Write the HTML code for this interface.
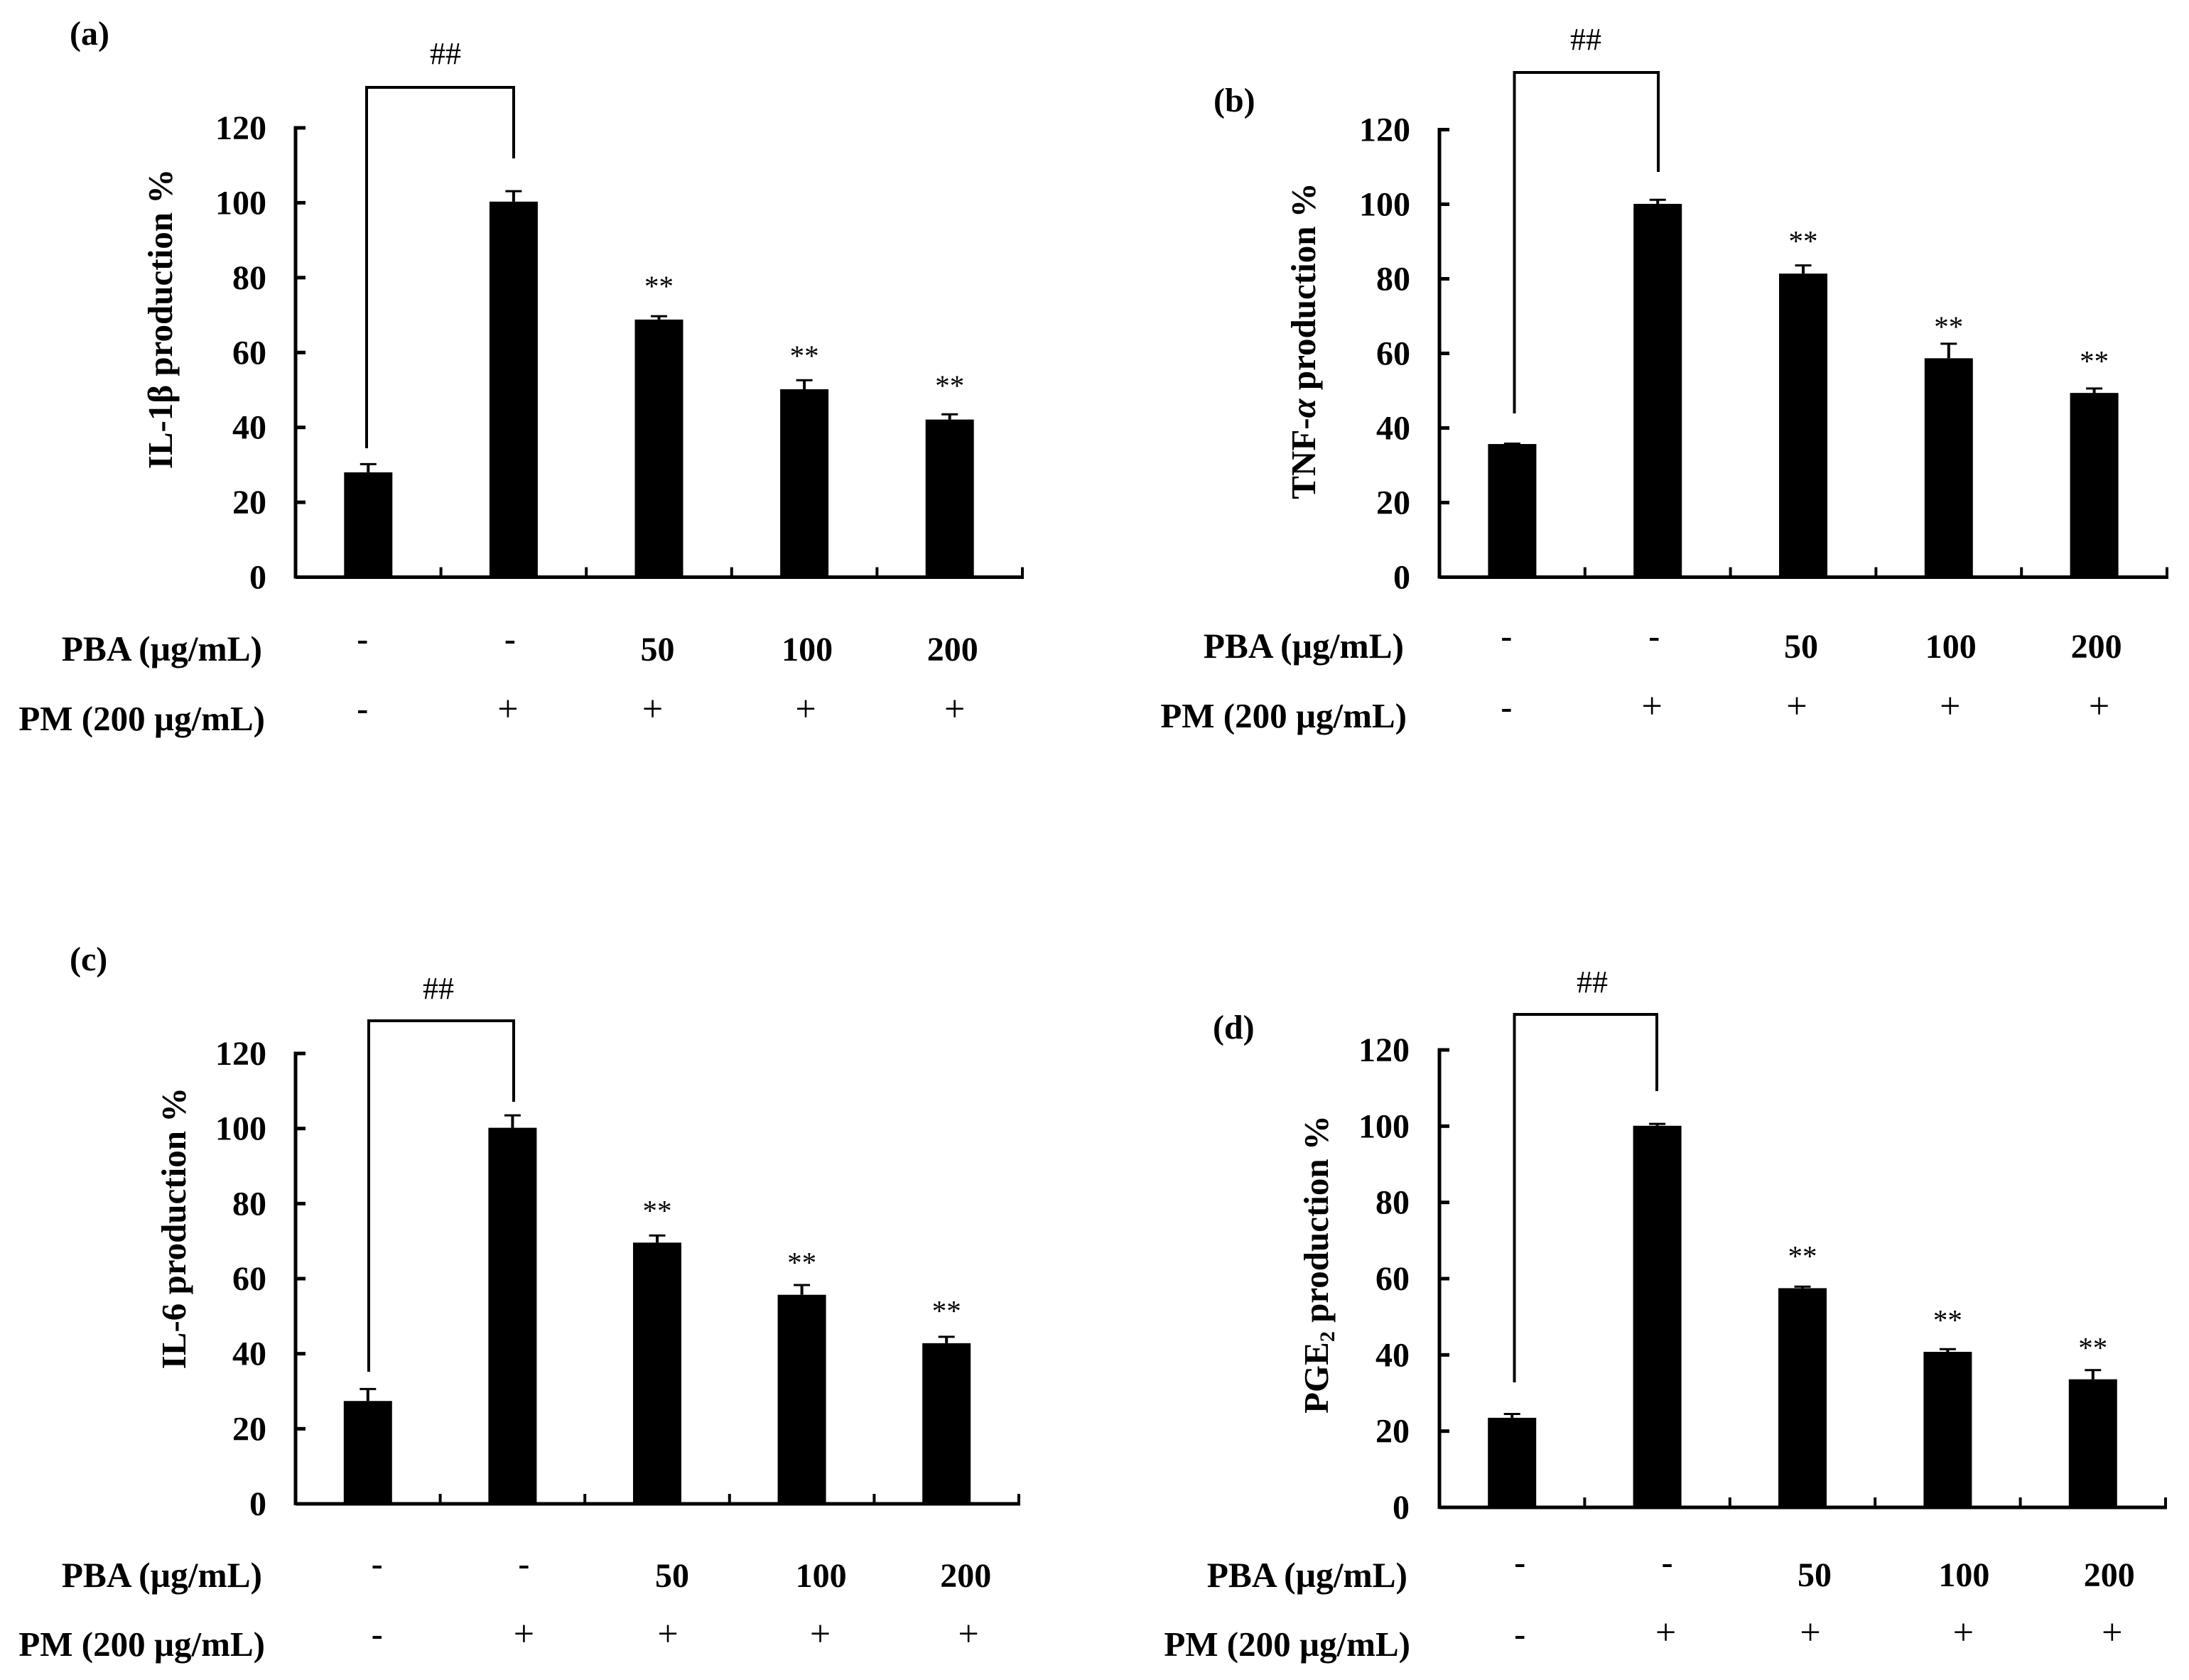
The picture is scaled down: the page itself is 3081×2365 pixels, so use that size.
<!DOCTYPE html>
<html lang="en">
<head>
<meta charset="utf-8">
<title>Cytokine production bar charts</title>
<style>
  html, body { margin: 0; padding: 0; background: #fff; }
  svg { display: block; }
  text { font-family: "Liberation Serif", serif; fill: #000; }
  .bold { font-weight: 700; font-size: 48px; }
  .axis-title { font-weight: 700; font-size: 49px; }
  .pba-title { font-weight: 700; font-size: 49.4px; }
  .pm-title { font-weight: 700; font-size: 49px; }
  .reg { font-weight: 400; }
</style>
</head>
<body>
<svg id="figure" xmlns="http://www.w3.org/2000/svg" width="3081" height="2365" viewBox="0 0 3081 2365">
  <rect x="0" y="0" width="3081" height="2365" fill="#fff"/>

  <g>
    <text class="bold" x="98" y="63">(a)</text>
    <text class="axis-title" text-anchor="middle" transform="translate(242 449) rotate(-90)">IL-1β production %</text>
    <path d="M516 631V123H723V223" fill="none" stroke="#000" stroke-width="4"/>
    <text class="reg" font-size="44" text-anchor="middle" x="627" y="90">##</text>
    <text class="pba-title" text-anchor="end" x="369" y="930">PBA (µg/mL)</text>
    <text class="pm-title" text-anchor="end" x="373" y="1028">PM (200 µg/mL)</text>
  </g>

  <g>
    <text class="bold" x="1708" y="157">(b)</text>
    <text class="axis-title" text-anchor="middle" transform="translate(1851 480) rotate(-90)">TNF-<tspan font-style="italic">α</tspan> production %</text>
    <path d="M2131.5 582V102H2334V242" fill="none" stroke="#000" stroke-width="4"/>
    <text class="reg" font-size="44" text-anchor="middle" x="2232" y="70">##</text>
    <text class="pba-title" text-anchor="end" x="1976" y="926">PBA (µg/mL)</text>
    <text class="pm-title" text-anchor="end" x="1980" y="1024">PM (200 µg/mL)</text>
  </g>

  <g>
    <text class="bold" x="98" y="1366">(c)</text>
    <text class="axis-title" text-anchor="middle" transform="translate(261 1729) rotate(-90)">IL-6 production %</text>
    <path d="M519 1931V1437H723V1551" fill="none" stroke="#000" stroke-width="4"/>
    <text class="reg" font-size="44" text-anchor="middle" x="617" y="1406">##</text>
    <text class="pba-title" text-anchor="end" x="369" y="2234">PBA (µg/mL)</text>
    <text class="pm-title" text-anchor="end" x="373" y="2331">PM (200 µg/mL)</text>
  </g>

  <g>
    <text class="bold" x="1707" y="1462">(d)</text>
    <text class="axis-title" text-anchor="middle" transform="translate(1869 1780) rotate(-90)">PGE<tspan font-size="30" dy="9">2</tspan><tspan dy="-9"> production %</tspan></text>
    <path d="M2131.5 1946V1428H2332V1536" fill="none" stroke="#000" stroke-width="4"/>
    <text class="reg" font-size="44" text-anchor="middle" x="2241" y="1397">##</text>
    <text class="pba-title" text-anchor="end" x="1981" y="2234">PBA (µg/mL)</text>
    <text class="pm-title" text-anchor="end" x="1985" y="2331">PM (200 µg/mL)</text>
  </g>
</svg>

<script>
// ---- Chart data ----
const yTickLabels = [0, 20, 40, 60, 80, 100, 120];
const pbaLabels = ['-', '-', '50', '100', '200'];
const pmLabels = ['-', '+', '+', '+', '+'];
const starLabels = ['', '', '**', '**', '**'];

const il1bValues = [28.0, 100.3, 68.8, 50.2, 42.1];
const il1bErrors = [2.2, 2.8, 0.9, 2.4, 1.4];
const il1bStarLevels = [0, 0, 78.7, 60.1, 52.2];

const tnfaValues = [35.7, 100.1, 81.4, 58.7, 49.4];
const tnfaErrors = [0.1, 1.1, 2.2, 3.9, 1.2];
const tnfaStarLevels = [0, 0, 91.1, 68.2, 59.0];

const il6Values = [27.4, 100.2, 69.6, 55.7, 42.8];
const il6Errors = [3.2, 3.3, 1.9, 2.6, 1.7];
const il6StarLevels = [0, 0, 79.1, 65.3, 52.4];

const pge2Values = [23.5, 100.1, 57.5, 40.8, 33.6];
const pge2Errors = [1.0, 0.5, 0.4, 0.7, 2.4];
const pge2StarLevels = [0, 0, 66.9, 50.1, 42.9];

// ---- Layout (separate from data) ----
const yMax = 120;
const panels = [
  { id: 'a', values: il1bValues, errors: il1bErrors, stars: il1bStarLevels,
    left: 416, right: 1439, top: 180, bottom: 812.5, labelRight: 375, shift: 0, pbaShift: 2, pmShift: 0,
    pbaY: 930, dashY1: 915, dashY2: 1013, plusY: 1015 },
  { id: 'b', values: tnfaValues, errors: tnfaErrors, stars: tnfaStarLevels,
    left: 2026, right: 3050, top: 182.5, bottom: 812.5, labelRight: 1985, shift: 0, pbaShift: 1, pmShift: 0,
    pbaY: 926, dashY1: 911, dashY2: 1011, plusY: 1011 },
  { id: 'c', values: il6Values, errors: il6Errors, stars: il6StarLevels,
    left: 416, right: 1434, top: 1483, bottom: 2117, labelRight: 375, shift: 21, pbaShift: 4, pmShift: 3,
    pbaY: 2234, dashY1: 2217, dashY2: 2316, plusY: 2317 },
  { id: 'd', values: pge2Values, errors: pge2Errors, stars: pge2StarLevels,
    left: 2026, right: 3048, top: 1478, bottom: 2122, labelRight: 1984, shift: 19, pbaShift: 2, pmShift: 1,
    pbaY: 2233, dashY1: 2215, dashY2: 2316, plusY: 2315 }
];
const pbaNudge = [-8, -5, -4, 2, 2];
const pmNudge = [-8, -8, -9, 2, 7];
const barWidth = 68;
const capWidth = 23;
const tickLength = 14;

const svgNS = 'http://www.w3.org/2000/svg';
const figure = document.getElementById('figure');

function shape(parent, tag, attrs) {
  const el = document.createElementNS(svgNS, tag);
  for (const key in attrs) el.setAttribute(key, attrs[key]);
  parent.appendChild(el);
  return el;
}

function drawPanel(p) {
  const yScale = v => p.bottom - (v / yMax) * (p.bottom - p.top);
  const bandWidth = (p.right - p.left) / p.values.length;
  const xCenter = i => p.left + bandWidth * (i + 0.5);
  const xEdge = i => p.left + bandWidth * i;

  const g = shape(figure, 'g', {});
  
  

  // bars and error bars
  p.values.forEach((v, i) => {
    const bar = shape(g, 'rect', { x: xCenter(i) - barWidth / 2, y: yScale(v), width: barWidth, height: p.bottom - yScale(v), fill: '#000' });
    
    

    const errTop = yScale(v + p.errors[i]);
    const stem = shape(g, 'line', { x1: xCenter(i), x2: xCenter(i), y1: yScale(v), y2: errTop, stroke: '#000', 'stroke-width': 4 });
    
    

    const cap = shape(g, 'line', { x1: xCenter(i) - capWidth / 2, x2: xCenter(i) + capWidth / 2, y1: errTop, y2: errTop, stroke: '#000', 'stroke-width': 3 });
    
    

    if (starLabels[i]) {
      const star = shape(g, 'text', { x: xCenter(i), y: yScale(p.stars[i]) + 19, 'text-anchor': 'middle', 'font-size': 41, class: 'reg' });
      star.textContent = starLabels[i];
      
      
    }
  });

  // axes
  const yAxis = shape(g, 'line', { x1: p.left, x2: p.left, y1: p.top - 2.5, y2: p.bottom + 2, stroke: '#000', 'stroke-width': 5 });
  
  

  const xAxis = shape(g, 'line', { x1: p.left, x2: p.right + 2, y1: p.bottom, y2: p.bottom, stroke: '#000', 'stroke-width': 5 });
  
  

  yTickLabels.forEach(v => {
    const tick = shape(g, 'line', { x1: p.left, x2: p.left + tickLength, y1: yScale(v), y2: yScale(v), stroke: '#000', 'stroke-width': 5 });
    
    

    const label = shape(g, 'text', { x: p.labelRight, y: yScale(v) + 16, 'text-anchor': 'end', class: 'bold' });
    label.textContent = v;
    
    
  });

  p.values.forEach((v, i) => {
    const tick = shape(g, 'line', { x1: xEdge(i + 1), x2: xEdge(i + 1), y1: p.bottom, y2: p.bottom - tickLength, stroke: '#000', 'stroke-width': 4 });
    
    
  });

  // treatment rows
  pbaLabels.forEach((t, i) => {
    const isDash = t === '-';
    const cell = shape(g, 'text', { x: xCenter(i) + pbaNudge[i] + p.shift + (isDash ? 0 : p.pbaShift), y: isDash ? p.dashY1 : p.pbaY, 'text-anchor': 'middle', class: 'bold' });
    cell.textContent = t;
    
    
  });

  pmLabels.forEach((t, i) => {
    const isDash = t === '-';
    const cell = shape(g, 'text', { x: xCenter(i) + pmNudge[i] + p.shift + (isDash ? 0 : p.pmShift), y: isDash ? p.dashY2 : p.plusY, 'text-anchor': 'middle', 'font-size': isDash ? 48 : 52, 'font-weight': isDash ? 700 : 400 });
    cell.textContent = t;
    
    
  });
}

panels.forEach(drawPanel);
</script>
</body>
</html>
